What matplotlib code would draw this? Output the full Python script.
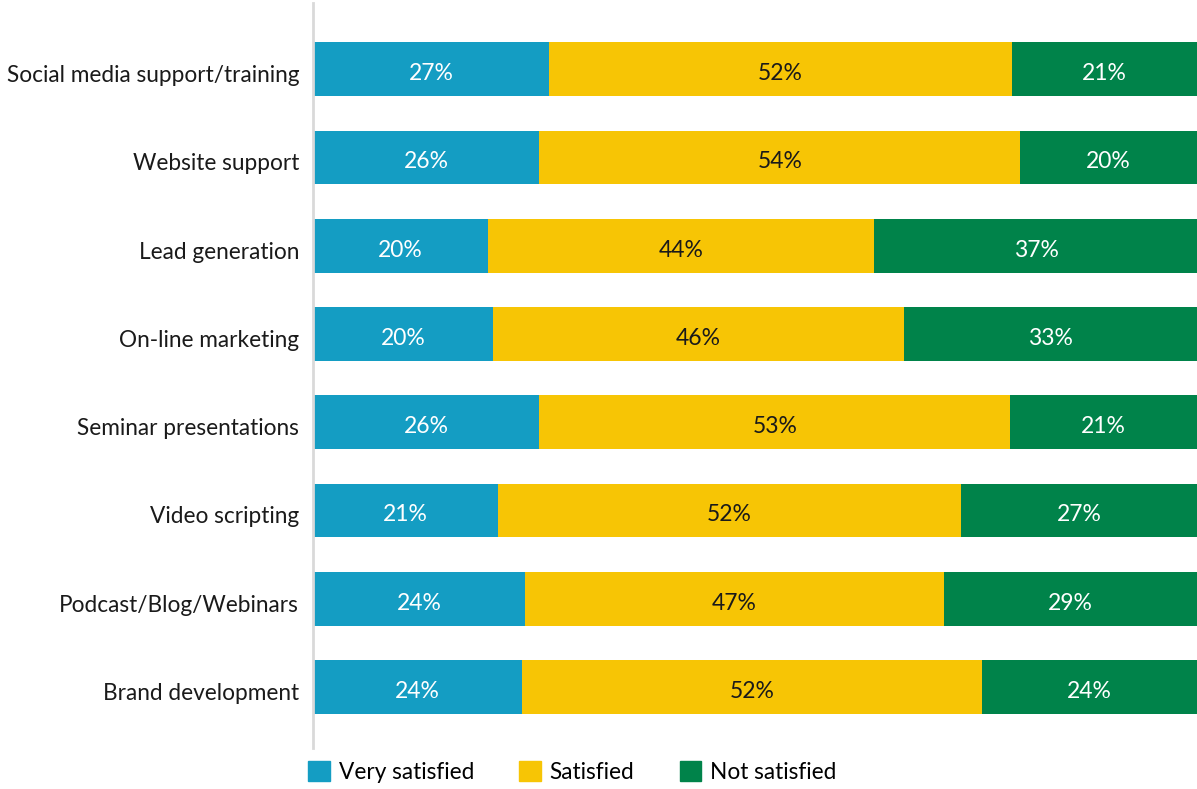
import numpy as np
import matplotlib
matplotlib.use("Agg")
import matplotlib.pyplot as plt
from matplotlib.patches import Patch

plt.rcParams['font.family'] = ['Lato', 'DejaVu Sans']

# survey categories, top to bottom
categories = [
    "Social media support/training",
    "Website support",
    "Lead generation",
    "On-line marketing",
    "Seminar presentations",
    "Video scripting",
    "Podcast/Blog/Webinars",
    "Brand development",
]

# shares in percent (labels show the rounded values)
very_satisfied = [26.7, 25.6, 19.8, 20.4, 25.6, 20.9, 24.0, 23.6]
satisfied = [52.4, 54.4, 43.7, 46.4, 53.3, 52.4, 47.4, 52.1]
not_satisfied = [20.9, 20.0, 36.6, 33.3, 21.1, 26.7, 28.6, 24.3]

series_names = ["Very satisfied", "Satisfied", "Not satisfied"]
colors = ["#149DC3", "#F7C505", "#00834A"]
text_colors = ["white", "#1a1a1a", "white"]

W, H = 1197, 789
fig = plt.figure(figsize=(W / 100, H / 100), dpi=100)
ax = fig.add_axes([313 / W, 41 / H, 1 - 313 / W, (748 - 3) / H])

y = np.arange(len(categories))
left = np.zeros(len(categories))
for vals, name, col, tcol in zip([very_satisfied, satisfied, not_satisfied],
                                 series_names, colors, text_colors):
    vals = np.array(vals)
    ax.barh(y, vals, left=left, height=0.61, color=col, label=name)
    for yi, l, v in zip(y, left, vals):
        ax.text(l + v / 2, yi + 0.05, f"{v:.0f}%", ha="center", va="center",
                color=tcol, fontsize=16.5)
    left += vals

ax.set_xlim(0, 100)
ax.set_ylim(7.69, -0.75)
ax.set_yticks(y + 0.05)
ax.set_yticklabels(categories, fontsize=16.3, color="#1a1a1a")
ax.tick_params(axis="y", length=0, pad=10)
ax.set_xticks([])
for s in ["top", "right", "bottom"]:
    ax.spines[s].set_visible(False)
ax.spines["left"].set_color("#d9d9d9")
ax.spines["left"].set_linewidth(2)

handles = [Patch(color=c) for c in colors]
fig.legend(handles, series_names, loc="center left",
           bbox_to_anchor=(308 / W, (H - 772) / H), ncol=3, frameon=False,
           fontsize=16.3, handlelength=0.95, handleheight=0.95,
           handletextpad=0.4, columnspacing=2.0, borderaxespad=0,
           borderpad=0)

fig.savefig("out.png", dpi=100)
